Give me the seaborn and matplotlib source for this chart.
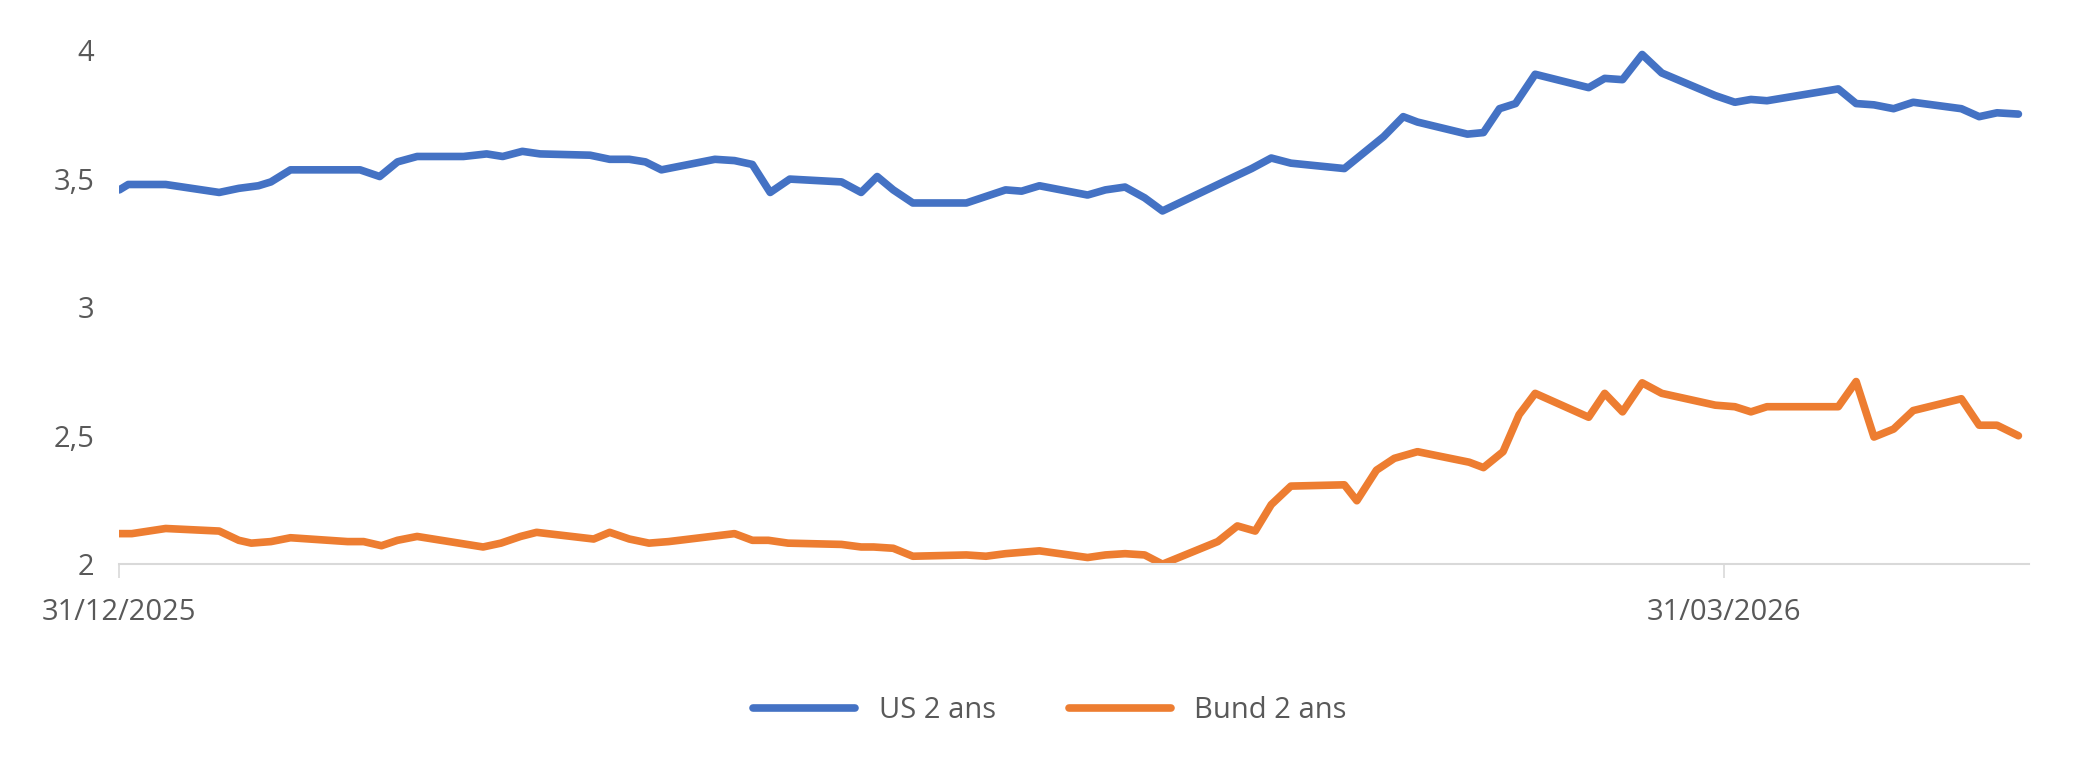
import matplotlib
matplotlib.use("Agg")
import matplotlib.pyplot as plt
import seaborn as sns
import pandas as pd
import numpy as np

start = pd.Timestamp("2025-12-31")
us_days = [0,0.5,2.6,5.6,6.7,7.8,8.5,9.6,13.5,14.6,15.6,16.7,19.3,20.6,21.5,22.6,23.6,26.4,27.5,28.6,29.5,30.4,33.4,34.5,35.5,36.5,37.6,40.5,41.6,42.5,43.4,44.5,47.5,49.7,50.6,51.6,54.3,55.3,56.4,57.5,58.5,62.4,63.5,64.6,65.7,68.7,69.8,70.9,72,72.8,75.6,76.5,77.4,78.3,79.4,82.4,83.3,84.3,85.4,86.5,89.5,90.6,91.5,92.4,96.4,97.4,98.4,99.5,100.6,103.3,104.3,105.3,106.5]
us_vals = [3.457,3.478,3.478,3.447,3.463,3.473,3.488,3.535,3.535,3.509,3.566,3.587,3.587,3.597,3.587,3.607,3.597,3.592,3.576,3.576,3.566,3.535,3.576,3.571,3.556,3.447,3.499,3.488,3.447,3.509,3.457,3.406,3.406,3.457,3.452,3.473,3.437,3.457,3.468,3.426,3.375,3.504,3.540,3.581,3.561,3.540,3.602,3.664,3.742,3.721,3.674,3.680,3.773,3.793,3.907,3.855,3.891,3.886,3.984,3.912,3.824,3.798,3.809,3.804,3.850,3.793,3.788,3.773,3.798,3.773,3.742,3.757,3.752]
bund_days = [0,0.7,2.6,5.6,6.7,7.4,8.5,9.6,12.8,13.7,14.7,15.6,16.7,20.4,21.4,22.5,23.4,26.6,27.5,28.6,29.7,30.8,34.5,35.5,36.4,37.5,40.5,41.6,42.3,43.4,44.5,47.5,48.6,49.7,51.6,54.3,55.3,56.4,57.5,58.5,61.6,62.7,63.7,64.6,65.7,68.7,69.4,70.5,71.5,72.8,75.7,76.5,77.6,78.5,79.4,82.4,83.3,84.3,85.4,86.5,89.5,90.6,91.5,92.4,96.4,97.4,98.4,99.5,100.6,103.3,104.3,105.3,106.5]
bund_vals = [2.119,2.119,2.139,2.129,2.093,2.082,2.088,2.103,2.088,2.088,2.072,2.093,2.108,2.067,2.082,2.108,2.124,2.098,2.124,2.098,2.082,2.088,2.119,2.093,2.093,2.082,2.077,2.067,2.067,2.062,2.031,2.036,2.031,2.041,2.052,2.026,2.036,2.041,2.036,2.0,2.088,2.149,2.129,2.232,2.304,2.309,2.247,2.366,2.412,2.438,2.397,2.376,2.438,2.582,2.665,2.572,2.665,2.593,2.706,2.665,2.619,2.613,2.593,2.613,2.613,2.711,2.495,2.526,2.598,2.644,2.541,2.541,2.5]
series_names = ["US 2 ans", "Bund 2 ans"]
tick_labels = ["31/12/2025", "31/03/2026"]

df = pd.concat([
    pd.DataFrame({"date": start + pd.to_timedelta(us_days, unit="D"), "val": us_vals, "s": series_names[0]}),
    pd.DataFrame({"date": start + pd.to_timedelta(bund_days, unit="D"), "val": bund_vals, "s": series_names[1]}),
])

sns.set_theme(style="white")
plt.rcParams['font.family'] = ['Open Sans', 'DejaVu Sans']
fig = plt.figure(figsize=(20.79, 7.75), dpi=100)
ax = fig.add_axes([0.0574, 0.272, 0.9186, 0.663])
sns.lineplot(data=df, x="date", y="val", hue="s", palette=["#4472C4", "#ED7D31"],
             linewidth=5.5, ax=ax, legend=True)
ax.set_ylim(2, 4)
ax.set_xlim(start, start + pd.Timedelta(days=107.1))
ax.set_yticks([2, 2.5, 3, 3.5, 4])
ax.set_yticklabels(["2", "2,5", "3", "3,5", "4"])
ax.set_xticks([pd.Timestamp("2025-12-31"), pd.Timestamp("2026-03-31")])
ax.set_xticklabels(tick_labels)
ax.tick_params(axis="both", labelsize=21, colors="#595959")
ax.tick_params(axis="x", length=10, width=1.2, color="#D9D9D9", direction="out", bottom=True, pad=14)
ax.tick_params(axis="y", length=0, pad=18)
ax.set_xlabel(""); ax.set_ylabel("")
for s in ["left", "right", "top"]:
    ax.spines[s].set_visible(False)
ax.spines["bottom"].set_color("#D9D9D9")
ax.spines["bottom"].set_linewidth(1.5)
handles, labels = ax.get_legend_handles_labels()
ax.get_legend().remove()
fig.legend(handles, labels, loc="center", bbox_to_anchor=(0.505, 0.083), ncol=2, frameon=False,
           fontsize=21, handlelength=3.5, columnspacing=2.5, labelcolor="#595959")
fig.savefig("out.png", dpi=100)
